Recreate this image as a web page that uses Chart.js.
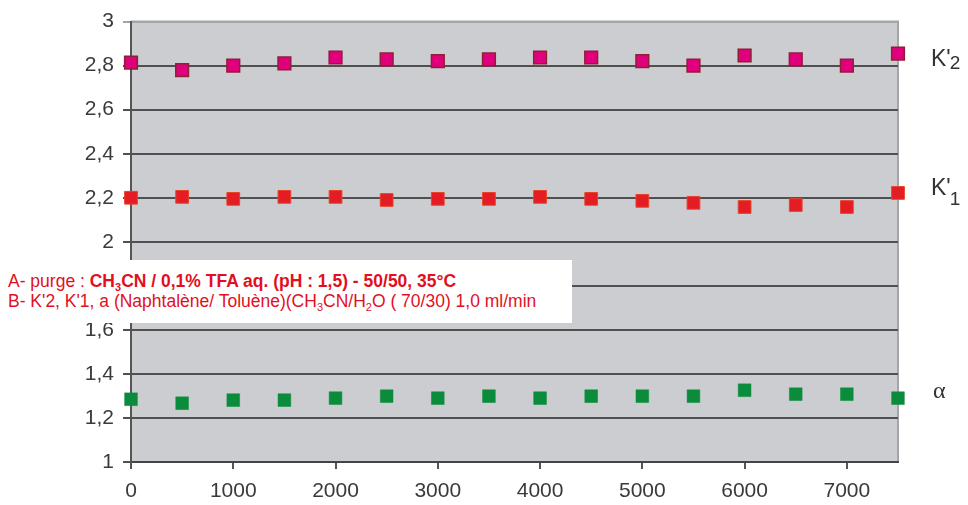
<!DOCTYPE html>
<html lang="fr">
<head>
  <meta charset="UTF-8">
  <title>K'2, K'1, α</title>
  <script src="https://cdn.jsdelivr.net/npm/chart.js"></script>
  <style>
    body { margin: 0; background: #fff; }
    .wrap { position: relative; width: 968px; height: 505px; }
    .note {
      position: absolute; left: 0; top: 260px; width: 572px; height: 63px;
      background: #fff; color: #e2101e; padding: 11px 0 0 8px; box-sizing: border-box;
      font-family: "Liberation Sans", Arial, sans-serif; font-size: 17.5px; line-height: 20px;
    }
    .note b { font-weight: bold; }
    .note sub { font-size: 11px; vertical-align: -4px; line-height: 0; }
  </style>
</head>
<body>
  <div class="wrap">
    <canvas id="chart" width="968" height="505"></canvas>
    <div class="note">
      <div>A- purge : <b>CH<sub>3</sub>CN / 0,1% TFA aq. (pH : 1,5) - 50/50, 35°C</b></div>
      <div>B- K'2, K'1, a (Naphtalène/ Toluène)(CH<sub>3</sub>CN/H<sub>2</sub>O ( 70/30) 1,0 ml/min</div>
    </div>
  </div>

  <script>
    // volume purgé (ml) et valeurs mesurées
    const volumes = [0, 500, 1000, 1500, 2000, 2500, 3000, 3500, 4000, 4500, 5000, 5500, 6000, 6500, 7000, 7500];
    const k2 = [2.814, 2.78, 2.80, 2.81, 2.837, 2.828, 2.82, 2.828, 2.837, 2.837, 2.82, 2.80, 2.846, 2.828, 2.80, 2.855];
    const k1 = [2.20, 2.204, 2.195, 2.204, 2.204, 2.19, 2.195, 2.195, 2.204, 2.195, 2.186, 2.177, 2.158, 2.167, 2.158, 2.222];
    const alpha = [1.285, 1.267, 1.281, 1.281, 1.29, 1.299, 1.29, 1.299, 1.29, 1.299, 1.299, 1.299, 1.326, 1.308, 1.308, 1.29];
    const seriesLabels = ["K'2", "K'1", "α"];
    const xTicks = [0, 1000, 2000, 3000, 4000, 5000, 6000, 7000];

    const tickFont = { family: '"Liberation Sans", Arial, sans-serif', size: 21 };

    function points(values) {
      return volumes.map((v, i) => ({ x: v, y: values[i] }));
    }

    // fond gris de la zone de tracé + cadre clair
    const plotBg = {
      id: 'plotBg',
      beforeDraw(chart) {
        const { ctx, chartArea: a } = chart;
        ctx.save();
        ctx.fillStyle = '#cbcdd1';
        ctx.fillRect(a.left, a.top, a.right - a.left, a.bottom - a.top);
        ctx.strokeStyle = '#a3a5a8';
        ctx.lineWidth = 2;
        ctx.beginPath();
        ctx.moveTo(a.left, a.top);
        ctx.lineTo(a.right, a.top);
        ctx.lineTo(a.right, a.bottom);
        ctx.stroke();
        ctx.restore();
      }
    };

    // étiquettes des séries à droite du graphique
    const sideLabels = {
      id: 'sideLabels',
      afterDraw(chart) {
        const { ctx, chartArea: a, scales } = chart;
        const x = a.right + 33;
        ctx.save();
        ctx.fillStyle = '#333';
        ctx.textBaseline = 'alphabetic';
        const kRows = [[66, '2', 69], [195, '1', 205]];
        kRows.forEach(([base, sub, subBase]) => {
          ctx.font = '23px "Liberation Sans", Arial, sans-serif';
          ctx.fillText("K'", x, base);
          const w = ctx.measureText("K'").width;
          ctx.font = '19px "Liberation Sans", Arial, sans-serif';
          ctx.fillText(sub, x + w - 1, subBase);
        });
        ctx.font = '24px "Liberation Serif", "DejaVu Serif", serif';
        ctx.textBaseline = 'middle';
        ctx.fillText('α', x + 2, scales.y.getPixelForValue(1.318));
        ctx.restore();
      }
    };

    function commaTick(v) {
      const r = Math.round(v * 10) / 10;
      return String(r).replace('.', ',');
    }

    const marker = { pointStyle: 'rect', pointRadius: 9, pointHoverRadius: 9, clip: false };

    new Chart(document.getElementById('chart'), {
      type: 'scatter',
      data: {
        datasets: [
          {
            ...marker, label: seriesLabels[0], data: points(k2),
            backgroundColor: '#e0007e', borderColor: '#8e2033', borderWidth: 1.5
          },
          {
            ...marker, label: seriesLabels[1], data: points(k1),
            backgroundColor: '#e41d25', borderColor: '#e8432a', borderWidth: 1
          },
          {
            ...marker, label: seriesLabels[2], data: points(alpha),
            backgroundColor: '#0b8c3c', borderColor: '#0b8c3c', borderWidth: 0.5
          }
        ]
      },
      options: {
        responsive: false,
        animation: false,
        layout: { padding: { left: 0, right: 70, top: 20, bottom: 0 } },
        plugins: { legend: { display: false }, tooltip: { enabled: false } },
        scales: {
          x: {
            type: 'linear', min: 0, max: 7500,
            afterFit(s) { s.height = 43; },
            afterBuildTicks(s) { s.ticks = xTicks.map(v => ({ value: v })); },
            ticks: { padding: 10, color: '#3a3a3a', font: tickFont, maxRotation: 0, callback: (v) => String(v) },
            grid: { drawOnChartArea: false, drawTicks: true, tickLength: 7, color: '#555', lineWidth: 2 },
            border: { display: true, color: '#444', width: 2 }
          },
          y: {
            min: 1, max: 3,
            afterFit(s) { s.width = 131; },
            ticks: { stepSize: 0.2, padding: 9, color: '#3a3a3a', font: tickFont, callback: commaTick },
            grid: {
              tickLength: 8, lineWidth: 2,
              color: (c) => c.tick && c.tick.value >= 2.999 ? '#a3a5a8' : '#505050'
            },
            border: { display: true, color: '#555', width: 2 }
          }
        }
      },
      plugins: [plotBg, sideLabels]
    });
  </script>
</body>
</html>
